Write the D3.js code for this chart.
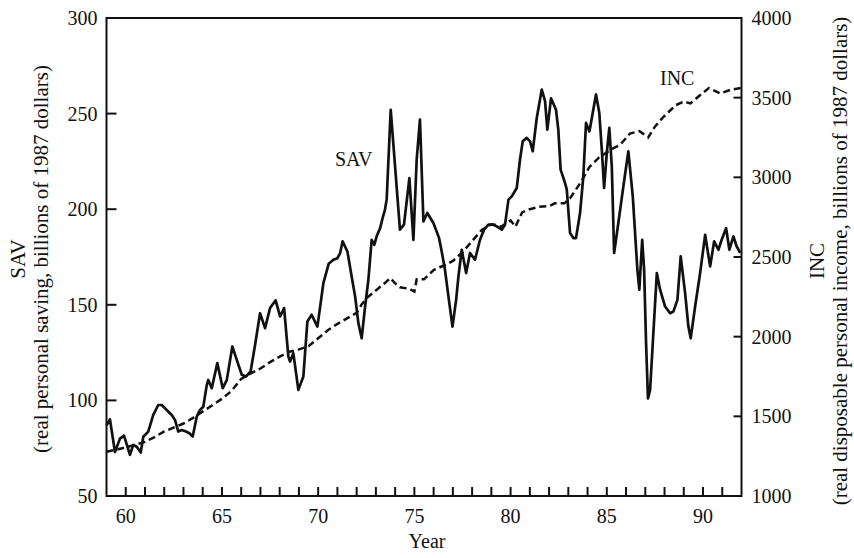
<!DOCTYPE html>
<html>
<head>
<meta charset="utf-8">
<script src="https://cdn.jsdelivr.net/npm/d3@7"></script>
<style>
 body { margin: 0; background: #fff; }
 svg text { font-family: "Liberation Serif", "Times New Roman", serif; fill: #111; }
</style>
</head>
<body>
<div id="chart"></div>
<script>
// SAV (year, billions of 1987 dollars)
var savYears = [59.0, 59.18, 59.44, 59.7, 59.91, 60.22, 60.39, 60.57, 60.78, 60.91,
 61.17, 61.43, 61.69, 61.87, 62.13, 62.39, 62.56, 62.73, 62.91, 63.13,
 63.31, 63.48, 63.69, 63.86, 64.03, 64.21, 64.29, 64.47, 64.76, 65.04,
 65.25, 65.54, 65.77, 66.03, 66.25, 66.49, 66.72, 66.98, 67.24, 67.5,
 67.79, 68.02, 68.23, 68.45, 68.54, 68.71, 68.97, 69.23, 69.44, 69.66,
 69.96, 70.27, 70.55, 70.79, 71.0, 71.14, 71.27, 71.52, 71.74, 71.92,
 72.09, 72.26, 72.44, 72.61, 72.78, 72.92, 73.04, 73.22, 73.35, 73.47,
 73.56, 73.77, 74.25, 74.46, 74.74, 74.95, 75.12, 75.29, 75.47, 75.67,
 75.99, 76.28, 76.42, 76.59, 76.77, 76.98, 77.17, 77.29, 77.46, 77.69,
 77.89, 78.15, 78.41, 78.62, 78.85, 79.11, 79.28, 79.54, 79.71, 79.89,
 80.06, 80.32, 80.49, 80.63, 80.84, 81.01, 81.15, 81.36, 81.62, 81.79,
 81.91, 82.1, 82.36, 82.48, 82.6, 82.83, 82.92, 83.09, 83.26, 83.4,
 83.61, 83.78, 83.92, 84.1, 84.27, 84.44, 84.61, 84.74, 84.86, 85.0,
 85.13, 85.26, 85.38, 85.6, 85.86, 86.12, 86.35, 86.59, 86.69, 86.84,
 86.94, 87.04, 87.14, 87.25, 87.39, 87.6, 87.77, 88.03, 88.29, 88.46,
 88.67, 88.84, 89.07, 89.24, 89.36, 89.59, 89.85, 90.11, 90.37, 90.58,
 90.8, 90.97, 91.2, 91.37, 91.58, 91.75, 91.93];
var savValues = [87, 90, 73, 80, 81.6, 71.5, 76.7, 75.8, 72.7, 81,
 83.7, 92.4, 97.6, 97.6, 95, 92.4, 89.8, 83.7, 84.5, 83.7,
 82.8, 81.1, 91.5, 95, 96.7, 108, 110.7, 106.4, 119.5, 106.4,
 110.6, 128.2, 121.2, 113.4, 112.5, 115.1, 129, 145.6, 137.8, 148.3,
 152.3, 143.9, 148.3, 122.9, 120.3, 124.7, 105.5, 112.5, 141.3, 144.8,
 138.6, 161.3, 171.5, 173.6, 174.4, 177, 183.2, 177.9, 164.8, 154.4,
 140.4, 132.5, 149.1, 163.1, 184, 181.4, 185.8, 190.1, 195.4, 199.7,
 205, 252, 189.3, 191.9, 216.3, 184, 226, 246.9, 193.6, 198,
 192.8, 185, 177.9, 168.3, 154.4, 138.6, 152.6, 164.8, 178.8, 166.6,
 177.1, 173.6, 184, 189.3, 191.9, 191.9, 191, 189.3, 191.9, 205,
 206.7, 211.1, 226, 235.5, 237.3, 235.5, 230.3, 247.7, 262.6, 256.5,
 241.6, 258, 252, 241.6, 220.7, 213.7, 210.2, 187.5, 184.9, 184.9,
 198, 217.2, 245.1, 240.7, 250.4, 260, 250.4, 231.2, 211.1, 229.4,
 242.5, 222.4, 177.1, 192.8, 211.9, 230.3, 206.7, 168.3, 157.9, 184,
 168.3, 130, 101, 105.5, 130, 166.6, 157.9, 149.1, 145.6, 146.5,
 152.6, 175.3, 156.1, 138.6, 132.5, 149.1, 166.6, 186.6, 170.1, 183.2,
 178.8, 184, 190.1, 178.8, 185.8, 180.5, 177.1];

// INC (year, billions of 1987 dollars)
var incYears = [59.0, 59.5, 60.0, 60.5, 61.0, 61.5, 62.0, 62.5, 63.0, 63.5,
 64.0, 64.5, 65.0, 65.5, 66.0, 66.5, 67.0, 67.5, 68.0, 68.5,
 69.0, 69.5, 70.0, 70.5, 71.0, 71.5, 72.0, 72.25, 72.5, 73.0,
 73.5, 73.75, 74.0, 74.25, 74.75, 75.0, 75.12, 75.5, 76.0, 76.5,
 77.0, 77.5, 78.0, 78.5, 79.0, 79.25, 79.5, 80.0, 80.25, 80.6,
 81.0, 81.5, 82.0, 82.3, 82.8, 83.1, 83.6, 84.1, 84.6, 85.3,
 85.7, 86.2, 86.7, 87.15, 87.5, 87.95, 88.6, 89.0, 89.35, 89.75,
 90.3, 90.9, 91.4, 92.0];
var incValues = [1278, 1290, 1305, 1322, 1340, 1370, 1405, 1430, 1455, 1490,
 1530, 1570, 1610, 1660, 1735, 1770, 1800, 1840, 1875, 1905,
 1920, 1940, 1990, 2040, 2080, 2115, 2150, 2200, 2240, 2290,
 2340, 2368, 2335, 2310, 2300, 2283, 2360, 2360, 2418, 2445,
 2475, 2530, 2600, 2670, 2705, 2700, 2690, 2730, 2690, 2780,
 2800, 2815, 2820, 2837, 2837, 2870, 2960, 3065, 3125, 3180,
 3205, 3275, 3290, 3250, 3318, 3380, 3454, 3475, 3464, 3506,
 3560, 3527, 3548, 3562];

var yearTicks = [60, 61, 62, 63, 64, 65, 66, 67, 68, 69, 70, 71, 72, 73, 74, 75,
 76, 77, 78, 79, 80, 81, 82, 83, 84, 85, 86, 87, 88, 89, 90, 91];
var yearLabels = [60, 65, 70, 75, 80, 85, 90];
var savTicks = [50, 100, 150, 200, 250, 300];
var incTicks = [1000, 1500, 2000, 2500, 3000, 3500, 4000];

var width = 854, height = 558;
var plotLeft = 106.5, plotRight = 741.5, plotTop = 18, plotBottom = 496;

var svg = d3.select("#chart").
 append("svg").
 attr("width", width).
 attr("height", height);

var x = d3.scaleLinear().domain([59, 92]).range([plotLeft, plotRight]);
var ySav = d3.scaleLinear().domain([50, 300]).range([plotBottom, plotTop]);
var yInc = d3.scaleLinear().domain([1000, 4000]).range([plotBottom, plotTop]);

// frame
svg.append("rect").
 attr("x", plotLeft).
 attr("y", plotTop).
 attr("width", plotRight - plotLeft).
 attr("height", plotBottom - plotTop).
 attr("fill", "none").
 attr("stroke", "#111").
 attr("stroke-width", 2);

// inward ticks, one every year along the bottom
svg.append("g").
 selectAll("line").
 data(yearTicks).
 enter().
 append("line").
 attr("x1", function(d){ return x(d); }).
 attr("x2", function(d){ return x(d); }).
 attr("y1", plotBottom).
 attr("y2", plotBottom - 9).
 attr("stroke", "#111").
 attr("stroke-width", 2);

svg.selectAll(".xlab").
 data(yearLabels).
 enter().
 append("text").
 attr("class", "xlab").
 attr("x", function(d){ return x(d); }).
 attr("y", 523).
 attr("text-anchor", "middle").
 attr("font-size", 20).
 text(function(d){ return d; });

// left ticks
svg.append("g").
 selectAll("line").
 data(savTicks).
 enter().
 append("line").
 attr("x1", plotLeft).
 attr("x2", plotLeft + 10).
 attr("y1", function(d){ return ySav(d); }).
 attr("y2", function(d){ return ySav(d); }).
 attr("stroke", "#111").
 attr("stroke-width", 2);

svg.selectAll(".ylab").
 data(savTicks).
 enter().
 append("text").
 attr("class", "ylab").
 attr("x", plotLeft - 9).
 attr("y", function(d){ return ySav(d); }).
 attr("dy", "0.35em").
 attr("text-anchor", "end").
 attr("font-size", 20).
 text(function(d){ return d; });

// right ticks
svg.append("g").
 selectAll("line").
 data(incTicks).
 enter().
 append("line").
 attr("x1", plotRight).
 attr("x2", plotRight - 8).
 attr("y1", function(d){ return yInc(d); }).
 attr("y2", function(d){ return yInc(d); }).
 attr("stroke", "#111").
 attr("stroke-width", 2);

svg.selectAll(".rlab").
 data(incTicks).
 enter().
 append("text").
 attr("class", "rlab").
 attr("x", plotRight + 10).
 attr("y", function(d){ return yInc(d); }).
 attr("dy", "0.35em").
 attr("font-size", 20).
 text(function(d){ return d; });

// series
var savLine = d3.line().
 x(function(d, i){ return x(savYears[i]); }).
 y(function(d){ return ySav(d); });
var incLine = d3.line().
 x(function(d, i){ return x(incYears[i]); }).
 y(function(d){ return yInc(d); });

svg.append("path").
 attr("d", incLine(incValues)).
 attr("fill", "none").
 attr("stroke", "#111").
 attr("stroke-width", 2.5).
 attr("stroke-dasharray", "7,4");

svg.append("path").
 attr("d", savLine(savValues)).
 attr("fill", "none").
 attr("stroke", "#111").
 attr("stroke-width", 2.7).
 attr("stroke-linejoin", "round");

// series labels
svg.append("text").
 attr("x", 335).
 attr("y", 166).
 attr("font-size", 20).
 text("SAV");
svg.append("text").
 attr("x", 660).
 attr("y", 85).
 attr("font-size", 20).
 text("INC");

// axis titles
svg.append("text").
 attr("x", 427).
 attr("y", 548).
 attr("text-anchor", "middle").
 attr("font-size", 20).
 text("Year");

var lt = svg.append("text").
 attr("transform", "translate(0,259) rotate(-90)").
 attr("text-anchor", "middle").
 attr("font-size", 21);
lt.append("tspan").attr("x", 0).attr("y", 25).text("SAV");
lt.append("tspan").attr("x", 0).attr("y", 48).text("(real personal saving, billions of 1987 dollars)");

var rt = svg.append("text").
 attr("transform", "translate(0,261) rotate(-90)").
 attr("text-anchor", "middle").
 attr("font-size", 21);
rt.append("tspan").attr("x", 0).attr("y", 824).text("INC");
rt.append("tspan").attr("x", 0).attr("y", 847).text("(real disposable personal income, billions of 1987 dollars)");
</script>
</body>
</html>
